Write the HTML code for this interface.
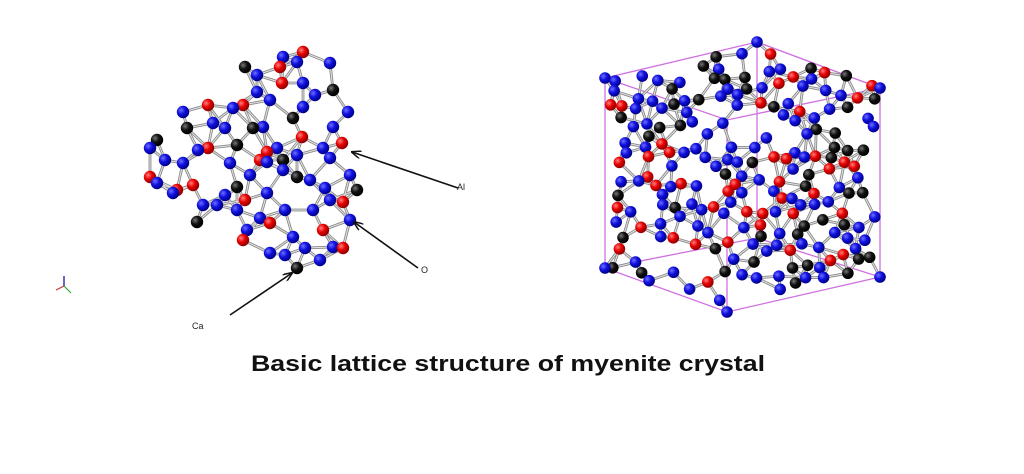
<!DOCTYPE html>
<html><head><meta charset="utf-8"><style>
html,body{margin:0;padding:0;background:#fff;}
svg{display:block;}
</style></head><body>
<svg id="s" width="1024" height="474" viewBox="0 0 1024 474" xmlns="http://www.w3.org/2000/svg">
<defs>
<radialGradient id="gb" cx="35%" cy="35%" r="65%"><stop offset="0" stop-color="#6f6fff"/><stop offset="0.5" stop-color="#1010e0"/><stop offset="1" stop-color="#00008a"/></radialGradient>
<radialGradient id="gr" cx="35%" cy="35%" r="65%"><stop offset="0" stop-color="#ff8080"/><stop offset="0.5" stop-color="#e80000"/><stop offset="1" stop-color="#900000"/></radialGradient>
<radialGradient id="gk" cx="35%" cy="35%" r="65%"><stop offset="0" stop-color="#777"/><stop offset="0.5" stop-color="#111"/><stop offset="1" stop-color="#000"/></radialGradient>
<marker id="ar" markerWidth="10" markerHeight="8" refX="9" refY="4" orient="auto" markerUnits="userSpaceOnUse"><path d="M0,0 L10,4 L0,8" fill="none" stroke="#111" stroke-width="1.5"/></marker>
</defs>
<g id="cube" stroke="#d070e0" stroke-width="1.3" fill="none">
<polyline points="605,78 757,42 880,88 727,120 605,78"/>
<polyline points="605,268 757,238 880,277 727,312 605,268"/>
<line x1="605" y1="78" x2="605" y2="268"/>
<line x1="757" y1="42" x2="757" y2="238"/>
<line x1="880" y1="88" x2="880" y2="277"/>
<line x1="727" y1="120" x2="727" y2="312"/>
</g>
<g id="bonds" stroke="#8a8a8a" stroke-width="2.8" stroke-linecap="round"></g>
<g id="bonds2" stroke="#e4e4e4" stroke-width="1" stroke-linecap="round"></g>
<g id="atoms"></g>
<g stroke="#111" stroke-width="1.6" marker-end="url(#ar)">
<line x1="458" y1="188" x2="352" y2="152"/>
<line x1="418" y1="268" x2="354" y2="222"/>
<line x1="230" y1="315" x2="292" y2="273"/>
</g>
<g font-family="Liberation Sans, sans-serif" font-size="9" fill="#222">
<text x="457" y="190">Al</text>
<text x="421" y="273">O</text>
<text x="192" y="329">Ca</text>
</g>
<g stroke-width="1.2">
<line x1="64" y1="286" x2="64" y2="276" stroke="#00a"/>
<line x1="64" y1="286" x2="56" y2="290" stroke="#c33"/>
<line x1="64" y1="286" x2="71" y2="293" stroke="#3a3"/>
</g>
<text x="508" y="371" text-anchor="middle" font-family="Liberation Sans, sans-serif" font-weight="bold" font-size="22" fill="#111" textLength="514" lengthAdjust="spacingAndGlyphs">Basic lattice structure of myenite crystal</text>
</svg>
<script>
var L={k:[[245,67],[333,90],[293,118],[253,128],[187,128],[157,140],[237,145],[297,177],[237,187],[357,190],[197,222],[297,268],[283,160]],
r:[[303,52],[280,67],[282,83],[208,105],[243,105],[302,137],[342,143],[208,148],[267,152],[150,177],[193,185],[177,190],[245,200],[343,202],[270,223],[243,240],[323,230],[343,248],[260,160]],
b:[[283,57],[297,62],[330,63],[257,75],[303,83],[257,92],[303,107],[183,112],[233,108],[213,123],[263,127],[348,112],[333,127],[150,148],[183,163],[230,163],[277,148],[297,155],[323,148],[330,158],[267,162],[350,175],[157,183],[203,205],[217,205],[237,210],[267,193],[313,210],[330,200],[350,220],[247,230],[293,237],[333,247],[270,253],[320,260],[173,193],[283,170],[315,95],[270,100],[225,128],[165,160],[198,150],[250,175],[310,180],[325,188],[285,210],[305,248],[260,218],[285,255],[225,195]]};
var seed=7;function rnd(){seed=(seed*16807)%2147483647;return seed/2147483647;}
var R={k:[],r:[],b:[[605,78],[757,42],[880,88],[605,268],[727,312],[880,277]]};
function inHex(x,y){
 return x>610&&x<875&&y>48+ (x<757?(757-x)*0.2:(x-757)*0.3)&&y<270+(x<727?(x-605)*0.3:(880-x)*0.2);}
var pts=[];var tries=0;
while(pts.length<200&&tries<30000){tries++;var x=605+rnd()*275,y=45+rnd()*265;if(!inHex(x,y))continue;
 var ok=true;for(var i=0;i<pts.length;i++){var dx=pts[i][0]-x,dy=pts[i][1]-y;if(dx*dx+dy*dy<95){ok=false;break;}}
 if(ok)pts.push([x,y]);}
pts.forEach(function(p){var q=rnd();if(q<0.55)R.b.push(p);else if(q<0.78)R.r.push(p);else R.k.push(p);});
var NS="http://www.w3.org/2000/svg";
function bonds(set,d,mx){var all=[];['k','r','b'].forEach(function(c){set[c].forEach(function(p){all.push(p);});});
 var g=document.getElementById('bonds'),g2=document.getElementById('bonds2');
 for(var i=0;i<all.length;i++){var n=0;for(var j=i+1;j<all.length;j++){var dx=all[i][0]-all[j][0],dy=all[i][1]-all[j][1];var dd=Math.sqrt(dx*dx+dy*dy);
 if(dd<d&&n<mx){n++;[g,g2].forEach(function(gg){var l=document.createElementNS(NS,'line');l.setAttribute('x1',all[i][0]);l.setAttribute('y1',all[i][1]);l.setAttribute('x2',all[j][0]);l.setAttribute('y2',all[j][1]);gg.appendChild(l);});}}}}
function atoms(set,r){var g=document.getElementById('atoms');var all=[];
 ['k','r','b'].forEach(function(c){set[c].forEach(function(p){all.push([p[0],p[1],c]);});});
 all.sort(function(a,b){return a[1]-b[1];});
 all.forEach(function(a){var c=document.createElementNS(NS,'circle');c.setAttribute('cx',a[0]);c.setAttribute('cy',a[1]);c.setAttribute('r',r);c.setAttribute('fill','url(#g'+a[2]+')');g.appendChild(c);});}
bonds(L,30,4);bonds(R,27,3);atoms(L,6.2);atoms(R,5.8);
</script>
</body></html>
